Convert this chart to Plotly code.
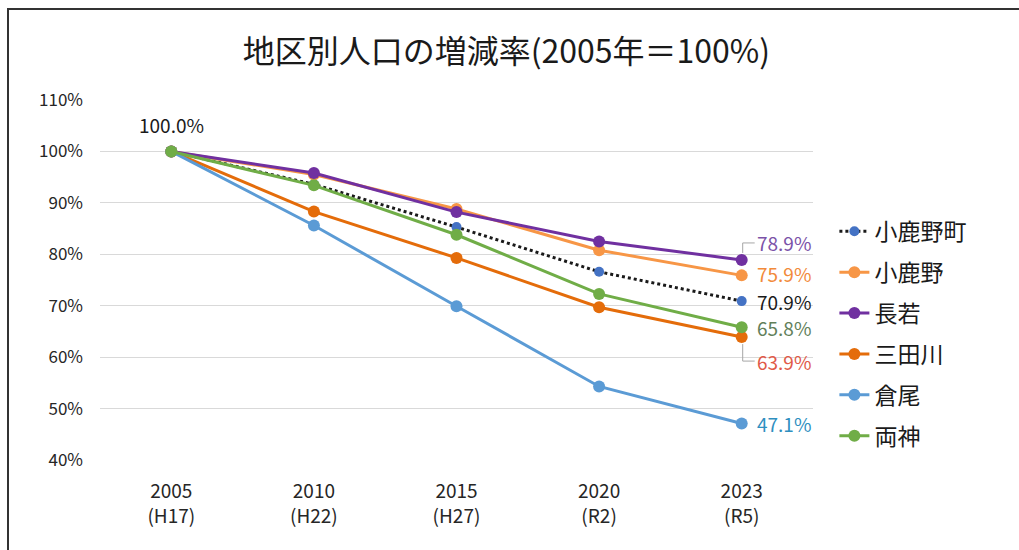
import plotly.graph_objects as go

years = ["2005", "2010", "2015", "2020", "2023"]
eras = ["(H17)", "(H22)", "(H27)", "(R2)", "(R5)"]

names = ["小鹿野町", "小鹿野", "長若", "三田川", "倉尾", "両神"]
v_town = [100.0, 93.6, 85.3, 76.6, 70.9]
v_ogano = [100.0, 95.5, 88.8, 80.8, 75.9]
v_nagawaka = [100.0, 95.8, 88.2, 82.5, 78.9]
v_mitagawa = [100.0, 88.3, 79.3, 69.7, 63.9]
v_kurao = [100.0, 85.6, 69.9, 54.3, 47.1]
v_ryokami = [100.0, 93.4, 83.8, 72.3, 65.8]
series = [v_town, v_ogano, v_nagawaka, v_mitagawa, v_kurao, v_ryokami]

line_colors = ["#1a1a1a", "#F79646", "#7030A0", "#E46C0A", "#5B9BD5", "#70AD47"]
marker_colors = ["#4472C4", "#F79646", "#7030A0", "#E46C0A", "#5B9BD5", "#70AD47"]
label_colors = ["#1a1a1a", "#F28A3A", "#7B52A8", "#E05A48", "#2F8FBF", "#62805A"]
label_dy = [0, 2, 17, -24, 0, 0]

FONT = "Noto Sans CJK JP"
xcats = [f"{y}<br>{e}" for y, e in zip(years, eras)]

fig = go.Figure()
for i, (n, v) in enumerate(zip(names, series)):
    fig.add_trace(go.Scatter(
        x=xcats, y=v, name=n, mode="lines+markers", legendgroup=n,
        line=dict(color=line_colors[i], width=3, dash="dot" if i == 0 else "solid"),
        marker=dict(color=marker_colors[i], size=10 if i == 0 else 12,
                    line=dict(width=0)),
    ))

ann = []
# first point label
ann.append(dict(x=xcats[0], y=series[0][0], xref="x", yref="y",
                text=f"{series[0][0]:.1f}%", showarrow=False, yshift=27,
                font=dict(family=FONT, size=19, color="#1a1a1a")))
for i, v in enumerate(series):
    ann.append(dict(x=xcats[-1], y=v[-1], xref="x", yref="y",
                    text=f"{v[-1]:.1f}%", showarrow=False, xanchor="left",
                    xshift=13, yshift=label_dy[i],
                    font=dict(family=FONT, size=19, color=label_colors[i])))

shapes = []
# leader lines for offset labels
for i, v in enumerate(series):
    if abs(label_dy[i]) > 8:
        s = 1 if label_dy[i] > 0 else -1
        shapes.append(dict(type="path", xref="x", yref="y", xsizemode="pixel",
                           ysizemode="pixel", xanchor=4, yanchor=v[-1],
                           path=f"M 1,{7 * s} L 1,{label_dy[i]} L 13,{label_dy[i]}",
                           line=dict(color="#a6a6a6", width=1)))
# outer chart frame
shapes.append(dict(type="rect", xref="paper", yref="paper",
                   x0=(8 - 100) / 713, x1=(1030 - 100) / 713,
                   y0=(460 - 560) / 360, y1=(460 - 9) / 360,
                   line=dict(color="#333333", width=2), layer="below"))

fig.update_layout(
    width=1019, height=550,
    margin=dict(l=100, r=206, t=100, b=90),
    paper_bgcolor="white", plot_bgcolor="white",
    title=dict(text="地区別人口の増減率(2005年＝100%)", x=0.497, xanchor="center",
               y=0.905, yanchor="middle",
               font=dict(family=FONT, size=32, color="#1a1a1a")),
    font=dict(family=FONT, color="#262626"),
    xaxis=dict(type="category", range=[-0.5, 4.5], showgrid=False,
               zeroline=False, showline=False, ticks="",
               tickfont=dict(family=FONT, size=19, color="#262626"),
               ticklabelstandoff=18),
    yaxis=dict(range=[40, 110], dtick=10, ticksuffix="%", showgrid=True,
               gridcolor="#d9d9d9", gridwidth=1, zeroline=False, showline=False,
               ticks="", tickfont=dict(family=FONT, size=17, color="#262626"),
               ticklabelstandoff=16),
    legend=dict(x=1.03, xanchor="left", y=0.695, yanchor="top",
                font=dict(family=FONT, size=23, color="#1a1a1a"),
                tracegroupgap=8, bgcolor="rgba(0,0,0,0)"),
    annotations=ann, shapes=shapes,
)

fig.write_html("out.html")
